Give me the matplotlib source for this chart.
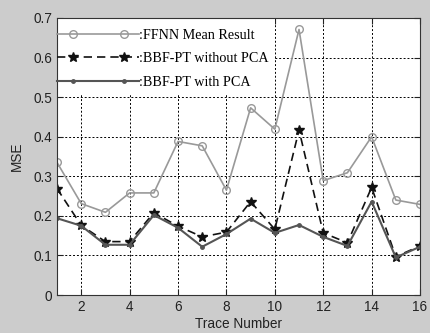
import matplotlib
matplotlib.use("Agg")
import matplotlib.pyplot as plt
from matplotlib.lines import Line2D
from matplotlib.patches import Rectangle
from matplotlib.legend_handler import HandlerLine2D, HandlerTuple

# Data
trace = list(range(1, 17))
ffnn = [0.335, 0.231, 0.209, 0.258, 0.258, 0.388, 0.377, 0.265,
        0.473, 0.419, 0.671, 0.289, 0.309, 0.400, 0.240, 0.229]
no_pca = [0.269, 0.176, 0.135, 0.135, 0.208, 0.174, 0.147, 0.159,
          0.236, 0.166, 0.417, 0.157, 0.132, 0.272, 0.097, 0.124]
with_pca = [0.194, 0.175, 0.127, 0.127, 0.202, 0.170, 0.122, 0.154,
            0.193, 0.157, 0.177, 0.147, 0.124, 0.236, 0.095, 0.122]
labels = [':FFNN Mean Result', ':BBF-PT without PCA', ':BBF-PT with PCA']

plt.rcParams['font.family'] = 'Liberation Sans'

fig = plt.figure(figsize=(4.3, 3.33), dpi=100, facecolor='#cccccc')
ax = fig.add_axes([0.1326, 0.114, 0.8442, 0.832])

styles = [
    dict(color='#999999', lw=1.2, marker='o', ms=5.5, mfc='none', mec='#999999'),
    dict(color='#111111', lw=1.2, ls=(0, (5, 3)), marker='*', ms=7,
         mfc='#111111', mec='#111111'),
    dict(color='#555555', lw=1.5, marker='.', ms=5),
]
for y, st, lab in zip([ffnn, no_pca, with_pca], styles, labels):
    ax.plot(trace, y, label=lab, **st)

ax.set_xlim(1, 16)
ax.set_ylim(0, 0.7)
ax.set_xticks(range(2, 17, 2))
ax.set_yticks([i / 10 for i in range(8)])
ax.set_yticklabels(['0', '0.1', '0.2', '0.3', '0.4', '0.5', '0.6', '0.7'])
ax.grid(True, color='black', ls=(0, (2, 2)), lw=0.7)
ax.tick_params(direction='in', top=True, right=True, labelsize=9.8,
               colors='#222222', length=4)
for s in ax.spines.values():
    s.set_color('#333333')
    s.set_linewidth(0.8)

ax.set_xlabel('Trace Number', fontsize=9.8, labelpad=2, color='#222222')
ax.set_ylabel('MSE', fontsize=9.8, labelpad=7, color='#222222')

# white box behind the legend, hides the grid there
ax.add_patch(Rectangle((0, 0.727), 0.6, 0.273, transform=ax.transAxes,
                       facecolor='white', edgecolor='none', zorder=1.8))

# matlab-like legend: long line, markers set in from the ends
handles, hmap = [], {}
for st in styles:
    line_st = {k: v for k, v in st.items() if k in ('color', 'lw', 'ls')}
    mark_st = {k: v for k, v in st.items() if k not in ('lw', 'ls')}
    ln = Line2D([], [], **line_st)
    mk = Line2D([], [], ls='none', **mark_st)
    hmap[ln] = HandlerLine2D(marker_pad=0)
    hmap[mk] = HandlerLine2D(marker_pad=1.1)
    handles.append((ln, mk))
hmap[tuple] = HandlerTuple(ndivide=1)

leg = ax.legend(handles, labels, handler_map=hmap, loc='upper left',
                bbox_to_anchor=(-0.029, 1.0), frameon=False,
                handlelength=5.8, handletextpad=0.0, numpoints=2,
                borderaxespad=0.0, borderpad=0.75, labelspacing=0.75,
                prop={'family': 'Liberation Serif', 'size': 10.2})

fig.savefig('out.png', dpi=100, facecolor=fig.get_facecolor())
